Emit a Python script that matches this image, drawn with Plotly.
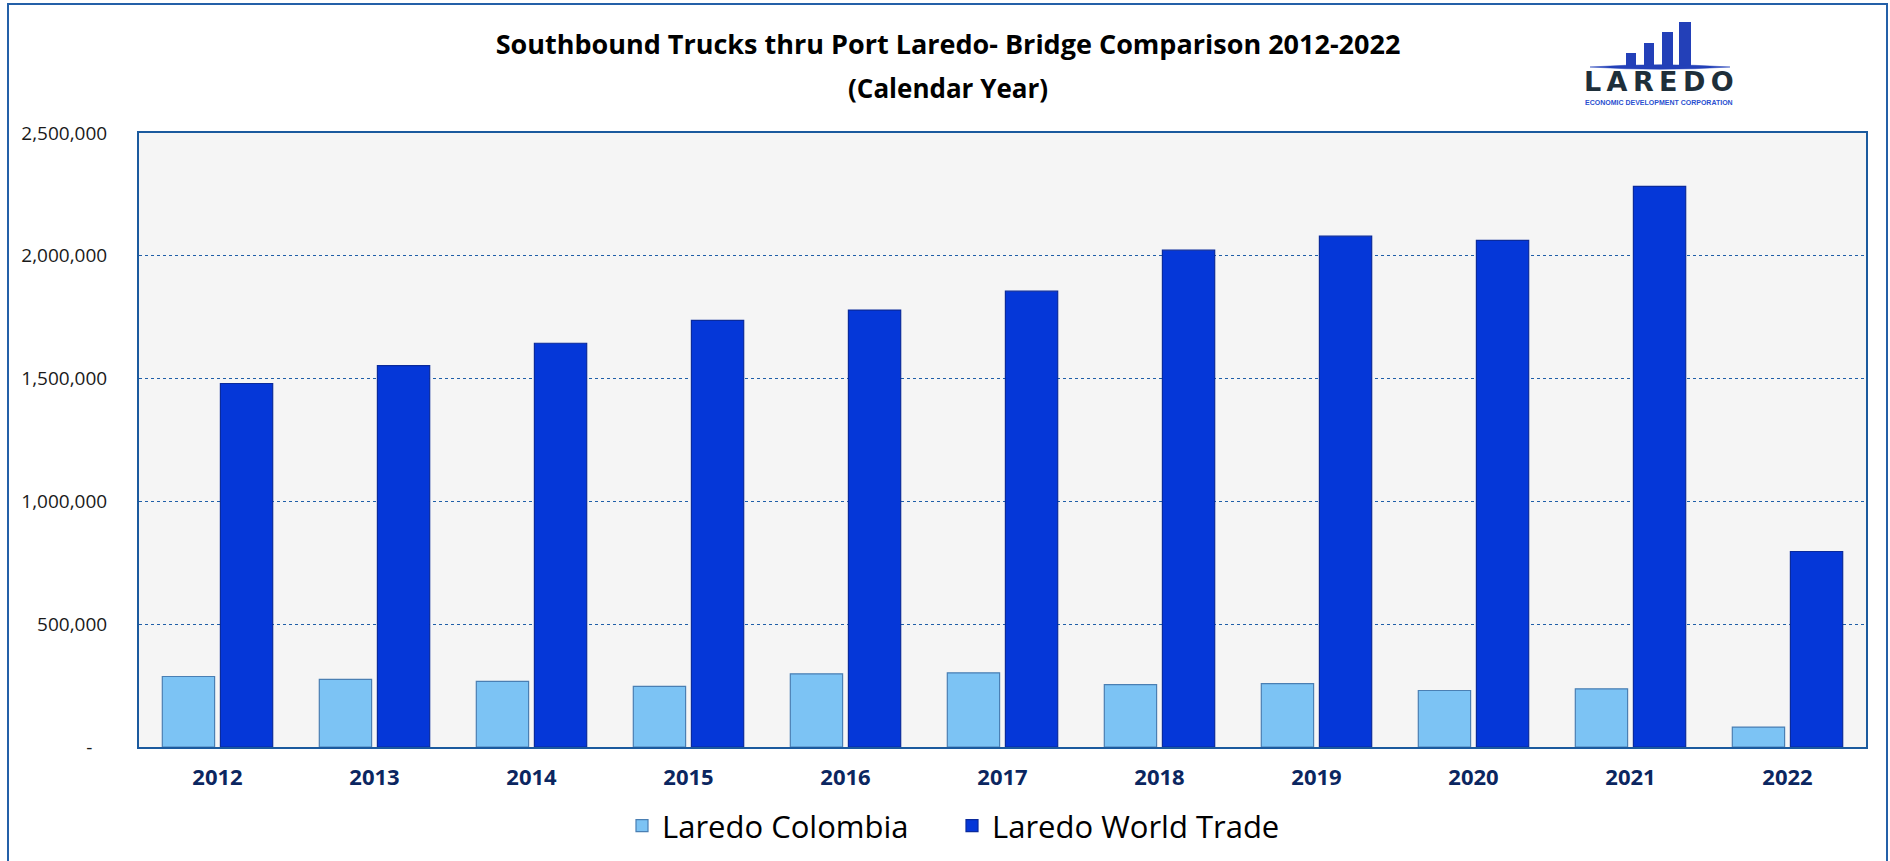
import plotly.graph_objects as go

# ---------------- data ----------------
years = ["2012", "2013", "2014", "2015", "2016", "2017", "2018", "2019", "2020", "2021", "2022"]
laredo_colombia = [287000, 275000, 267000, 247000, 298000, 302000, 254000, 258000, 230000, 237000, 81000]
laredo_world_trade = [1480000, 1553000, 1644000, 1737000, 1779000, 1856000, 2023000, 2080000, 2063000, 2283000, 796000]
y_tickvals = [0, 500000, 1000000, 1500000, 2000000, 2500000]
y_ticktext = ["-\u00a0\u00a0\u00a0", "500,000", "1,000,000", "1,500,000", "2,000,000", "2,500,000"]
series_names = ["Laredo Colombia", "Laredo World Trade"]

# ---------------- geometry helpers (page pixels -> paper) ----------------
W, H = 1890, 861
ML, MR, MT, MB = 139, 24, 133, 114
PW, PH = W - ML - MR, H - MT - MB


def px_x(p):
    return (p - ML) / PW


def px_y(p):
    return (H - MB - p) / PH


fig = go.Figure()
fig.add_trace(go.Bar(
    x=years, y=laredo_colombia, name=series_names[0],
    marker=dict(color="#7cc3f4", line=dict(color="#4a7fb3", width=1.2)),
))
fig.add_trace(go.Bar(
    x=years, y=laredo_world_trade, name=series_names[1],
    marker=dict(color="#0537d8", line=dict(color="#0a2a9c", width=1.2)),
))

shapes = []
# outer chart frame
shapes.append(dict(type="rect", xref="paper", yref="paper",
                   x0=px_x(8), x1=px_x(1887), y0=px_y(900), y1=px_y(4),
                   line=dict(color="#2460a8", width=2), layer="below"))
# logo bars
logo_bars = [(1626, 1636, 53), (1644, 1654, 43), (1662, 1673, 32), (1679, 1691, 22)]
for x0, x1, top in logo_bars:
    shapes.append(dict(type="rect", xref="paper", yref="paper",
                       x0=px_x(x0), x1=px_x(x1), y0=px_y(66), y1=px_y(top),
                       fillcolor="#2340b8", line=dict(width=0)))
# logo swoosh
sx = [1590, 1660, 1730, 1660]
sy = [67, 64.5, 67, 69.5]
path = "M {} {} Q {} {} {} {} Q {} {} {} {} Z".format(
    px_x(sx[0]), px_y(sy[0]), px_x(sx[1]), px_y(sy[1] - 2), px_x(sx[2]), px_y(sy[2]),
    px_x(sx[3]), px_y(sy[3] + 2), px_x(sx[0]), px_y(sy[0]))
shapes.append(dict(type="path", xref="paper", yref="paper", path=path,
                   fillcolor="#2340b8", line=dict(color="#2340b8", width=0.5)))

annotations = [
    dict(text="<b>(Calendar Year)</b>", xref="paper", yref="paper",
         x=px_x(948), y=px_y(88), xanchor="center", yanchor="middle", showarrow=False,
         font=dict(family="Open Sans", size=26, color="#000000")),
    dict(text="<b>L\u2009A\u2009R\u2009E\u2009D\u2009O</b>", xref="paper", yref="paper",
         x=px_x(1659), y=px_y(82), xanchor="center", yanchor="middle", showarrow=False,
         font=dict(family="DejaVu Sans", size=27, color="#1e2f3a")),
    dict(text="<b>ECONOMIC DEVELOPMENT CORPORATION</b>", xref="paper", yref="paper",
         x=px_x(1659), y=px_y(103), xanchor="center", yanchor="middle", showarrow=False,
         font=dict(family="Liberation Sans", size=7, color="#2a4fd0")),
]

fig.update_layout(
    width=W, height=H,
    margin=dict(l=ML, r=MR, t=MT, b=MB, autoexpand=False),
    paper_bgcolor="#ffffff",
    plot_bgcolor="#f5f5f5",
    barmode="group",
    bargap=0.26,
    bargroupgap=0.1,
    title=dict(text="<b>Southbound Trucks thru Port Laredo- Bridge Comparison 2012-2022</b>",
               xref="container", yref="container", x=948 / W, y=1 - 45 / H,
               xanchor="center", yanchor="middle",
               font=dict(family="Open Sans", size=27, color="#000000")),
    font=dict(family="Open Sans", color="#1a1a1a"),
    xaxis=dict(type="category", showline=True, linecolor="#1b5a9e", linewidth=2, mirror=True,
               showgrid=False, ticks="", ticklabelstandoff=10, automargin=False,
               tickfont=dict(family="Open Sans", size=22, color="#0b2660", weight="bold")),
    yaxis=dict(range=[0, 2500000], tickvals=y_tickvals, ticktext=y_ticktext,
               showline=True, linecolor="#1b5a9e", linewidth=2, mirror=True,
               showgrid=True, gridcolor="#1f5fa8", griddash="dot", gridwidth=1,
               zeroline=False, ticks="", ticklabelstandoff=26, automargin=False,
               tickfont=dict(family="Open Sans", size=19, color="#1a1a1a")),
    legend=dict(orientation="h", xref="container", yref="container",
                x=952 / W, y=1 - 826 / H, xanchor="center", yanchor="middle",
                font=dict(family="Open Sans", size=31, color="#000000"),
                bgcolor="rgba(0,0,0,0)", itemwidth=30,
                entrywidth=285, entrywidthmode="pixels"),
    shapes=shapes,
    annotations=annotations,
    showlegend=True,
)

fig.write_html("out.html", config={"displayModeBar": False},
               post_script="document.body.style.margin='0';document.body.style.padding='0';")
